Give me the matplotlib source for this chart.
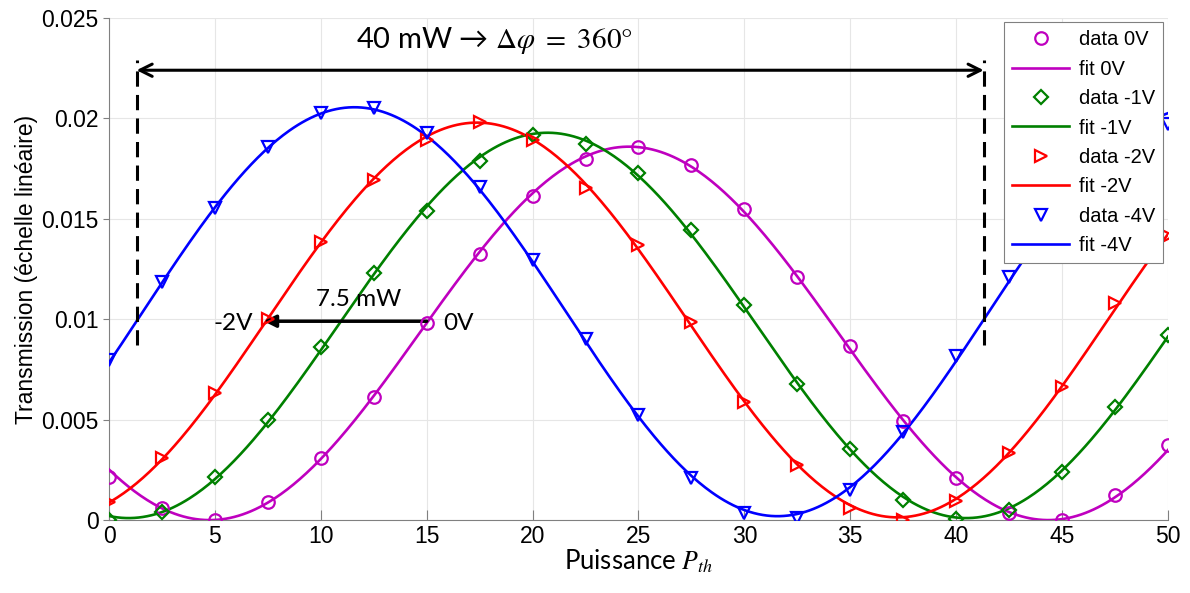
import numpy as np
import matplotlib
matplotlib.use("Agg")
import matplotlib.pyplot as plt

plt.rcParams['font.family'] = ['Liberation Sans', 'DejaVu Sans']
plt.rcParams['mathtext.fontset'] = 'stix'

# Puissance (mW), one measurement every 2.5 mW
puissance = np.arange(0, 50.01, 2.5)

# Transmission
data_0V = [0.00216, 0.0006, 0.0000, 0.00091, 0.0031, 0.00614, 0.0098, 0.01325,
           0.01614, 0.0180, 0.01859, 0.01768, 0.01549, 0.01212, 0.00867, 0.00493,
           0.00209, 0.00035, 0.0000, 0.00124, 0.00373]
data_1V = [0.00002, 0.0004, 0.00216, 0.00498, 0.00863, 0.01228, 0.01539, 0.01788,
           0.01918, 0.01873, 0.0173, 0.01444, 0.01071, 0.00677, 0.00354, 0.0010,
           0.00005, 0.0005, 0.0024, 0.00563, 0.00921]
data_2V = [0.00091, 0.0031, 0.00632, 0.01001, 0.01386, 0.01693, 0.01892, 0.01984,
           0.01892, 0.01653, 0.0137, 0.00988, 0.00589, 0.00274, 0.0006, 0.0000,
           0.00095, 0.00334, 0.00664, 0.01082, 0.01414]
data_4V = [0.00797, 0.01185, 0.01554, 0.01858, 0.02027, 0.02052, 0.01927, 0.01658,
           0.01295, 0.0090, 0.00523, 0.00209, 0.00035, 0.0001, 0.0015, 0.0044,
           0.00817, 0.0121, 0.0157, 0.0183, 0.0197]

labels = ['0V', '-1V', '-2V', '-4V']
colors = ['#BF00BF', '#008000', '#FF0000', '#0000FF']
markers = ['o', 'D', '>', 'v']
msizes = [9, 7.5, 9, 9]


# Sinusoidal least-squares fit, period scanned on a grid
def fit_sinus(x, y):
    best = None
    for T in np.linspace(34, 46, 241):
        k = 2 * np.pi / T
        A = np.column_stack([np.cos(k * x), np.sin(k * x), np.ones_like(x)])
        coef, res, _, _ = np.linalg.lstsq(A, y, rcond=None)
        r = np.sum((A @ coef - y) ** 2)
        if best is None or r < best[0]:
            best = (r, k, coef)
    _, k, c = best
    return lambda t: c[0] * np.cos(k * t) + c[1] * np.sin(k * t) + c[2]


fig = plt.figure(figsize=(11.9, 5.93), dpi=100)
ax = fig.add_axes([0.0916, 0.1231, 0.8899, 0.8465])

xf = np.linspace(0, 50, 500)
handles = []
for d, lab, c, m, ms in zip([data_0V, data_1V, data_2V, data_4V], labels, colors, markers, msizes):
    d = np.array(d)
    f = fit_sinus(puissance, d)
    h1, = ax.plot(puissance, d, linestyle='none', marker=m, markersize=ms,
                  markerfacecolor='none', markeredgecolor=c, markeredgewidth=1.6,
                  label='data ' + lab, zorder=4)
    h2, = ax.plot(xf, f(xf), color=c, lw=1.9, label='fit ' + lab, zorder=3)
    handles += [h1, h2]

ax.set_xlim(0, 50)
ax.set_ylim(0, 0.025)
ax.set_xticks(np.arange(0, 51, 5))
ax.set_yticks([0, 0.005, 0.01, 0.015, 0.02, 0.025])
ax.set_yticklabels(['0', '0.005', '0.01', '0.015', '0.02', '0.025'])
ax.grid(True, color='#E6E6E6', lw=0.8)
ax.set_axisbelow(True)
for s in ['top', 'right']:
    ax.spines[s].set_visible(False)
for s in ['left', 'bottom']:
    ax.spines[s].set_color('#808080')
ax.tick_params(axis='both', labelsize=16.5, colors='#808080', labelcolor='black')
ax.tick_params(axis='x', direction='in', length=7)
ax.tick_params(axis='y', direction='out', length=4)

ax.set_ylabel('Transmission (échelle linéaire)', fontsize=16.5, labelpad=2)
ax.set_xlabel(r'Puissance $P_{th}$', fontsize=18.5, family=['Lato', 'DejaVu Sans'], labelpad=0)

# annotations
ax.plot([1.3, 1.3], [0.0087, 0.0229], color='black', lw=2.2, ls=(0, (5, 2.7)), zorder=5)
ax.plot([41.3, 41.3], [0.0087, 0.0229], color='black', lw=2.2, ls=(0, (5, 2.7)), zorder=5)
ax.annotate('', xy=(1.3, 0.0224), xytext=(41.3, 0.0224),
            arrowprops=dict(arrowstyle='<->', color='black', lw=2.2,
                            mutation_scale=22, shrinkA=0, shrinkB=0))
ax.text(18.2, 0.0239, r'40 mW → $\mathit{\Delta\varphi}\ =\ 360°$', fontsize=21,
        family=['Lato', 'DejaVu Sans'], ha='center', va='center')
ax.annotate('', xy=(7.3, 0.0099), xytext=(15, 0.0099),
            arrowprops=dict(arrowstyle='-|>', color='black', lw=2.5,
                            mutation_scale=18, shrinkA=0, shrinkB=0))
ax.text(11.8, 0.0110, '7.5 mW', fontsize=17.5, family=['Lato', 'DejaVu Sans'],
        ha='center', va='center')
ax.text(6.8, 0.0098, '-2V', fontsize=17.5, family=['Lato', 'DejaVu Sans'],
        ha='right', va='center')
ax.text(15.8, 0.0098, '0V', fontsize=17.5, family=['Lato', 'DejaVu Sans'],
        ha='left', va='center')

leg = ax.legend(handles=handles, loc='upper right', bbox_to_anchor=(0.9955, 0.992),
                fontsize=14.5, frameon=True, fancybox=False, framealpha=1,
                edgecolor='#808080', handlelength=2.8, handletextpad=0.5,
                labelspacing=0.52, borderpad=0.4, borderaxespad=0)
leg.get_frame().set_linewidth(0.8)
leg.set_zorder(10)

fig.savefig('out.png', dpi=100)
